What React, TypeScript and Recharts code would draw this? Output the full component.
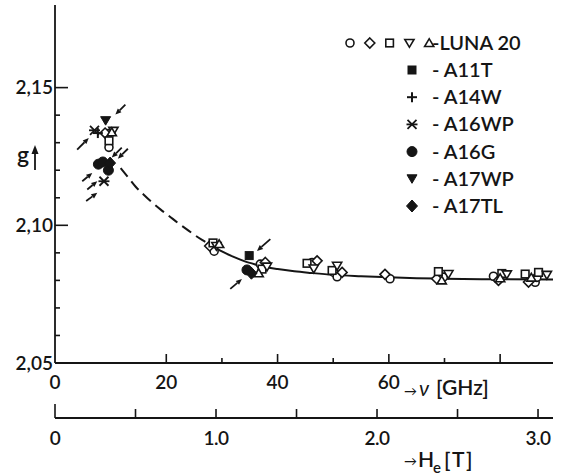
import React from 'react';
import { ComposedChart, XAxis, YAxis, Scatter, Line, ReferenceLine } from 'recharts';

const FONT = 'Lato, "Open Sans", sans-serif';
const INK = '#151515';

// ---- axes ----
const nuTicks = [0, 20, 30, 40, 50, 60, 70, 80];
const nuLabels = [0, 20, 40, 60];
const hTicks = [0, 0.5, 1.0, 1.5, 2.0, 2.5, 3.0];
const hLabels = [0, 1, 2, 3];
const hRange = [{ h: 0, g: 2.05 }, { h: 3.093, g: 2.05 }];
const gTicks = [2.05, 2.06, 2.07, 2.08, 2.09, 2.10, 2.11, 2.12, 2.13, 2.14, 2.15];
const gLabels = [2.05, 2.10, 2.15];

// ---- curve (nu GHz, g) ----
const curveDashed = [
  { nu: 11.8, g: 2.1208 }, { nu: 13, g: 2.1178 }, { nu: 14.5, g: 2.1140 }, { nu: 16, g: 2.1110 },
  { nu: 17.5, g: 2.1082 }, { nu: 19, g: 2.1057 }, { nu: 20.5, g: 2.1034 }, { nu: 22, g: 2.1010 },
  { nu: 23.5, g: 2.0988 }, { nu: 25, g: 2.0966 }, { nu: 26.5, g: 2.0946 }, { nu: 28, g: 2.0928 },
];
const curveSolid = [
  { nu: 28, g: 2.0928 }, { nu: 30, g: 2.0905 }, { nu: 32, g: 2.0886 }, { nu: 34, g: 2.0870 },
  { nu: 36, g: 2.0858 }, { nu: 38, g: 2.0848 }, { nu: 40, g: 2.0841 }, { nu: 43, g: 2.0833 },
  { nu: 46, g: 2.0827 }, { nu: 50, g: 2.0820 }, { nu: 55, g: 2.0815 }, { nu: 60, g: 2.0811 },
  { nu: 65, g: 2.0808 }, { nu: 70, g: 2.0806 }, { nu: 80, g: 2.0804 }, { nu: 89.5, g: 2.0803 },
];

// ---- LUNA 20 (open symbols) ----
const lunaCircle = [
  { nu: 9.6, g: 2.1333 }, { nu: 9.7, g: 2.1283 }, { nu: 28.6, g: 2.0906 }, { nu: 36.9, g: 2.0859 },
  { nu: 46.2, g: 2.0865 }, { nu: 50.1, g: 2.0829 }, { nu: 50.7, g: 2.0813 }, { nu: 60.2, g: 2.0806 },
  { nu: 69.8, g: 2.0812 }, { nu: 78.8, g: 2.0815 }, { nu: 86.3, g: 2.0793 }, { nu: 86.6, g: 2.0811 },
];
const lunaDiamond = [
  { nu: 9.0, g: 2.1335 }, { nu: 27.8, g: 2.0925 }, { nu: 37.8, g: 2.0865 }, { nu: 47.1, g: 2.0871 },
  { nu: 51.6, g: 2.0829 }, { nu: 59.3, g: 2.0822 }, { nu: 68.6, g: 2.0806 }, { nu: 79.7, g: 2.0800 },
  { nu: 85.1, g: 2.0794 },
];
const lunaSquare = [
  { nu: 9.7, g: 2.1307 }, { nu: 28.4, g: 2.0936 }, { nu: 37.2, g: 2.0841 }, { nu: 45.3, g: 2.0862 },
  { nu: 49.8, g: 2.0836 }, { nu: 68.9, g: 2.0832 }, { nu: 80.3, g: 2.0825 }, { nu: 84.5, g: 2.0823 },
  { nu: 86.9, g: 2.0829 },
];
const lunaTriDown = [
  { nu: 10.5, g: 2.1343 }, { nu: 29.0, g: 2.0925 }, { nu: 38.1, g: 2.0850 }, { nu: 46.5, g: 2.0843 },
  { nu: 50.7, g: 2.0853 }, { nu: 70.7, g: 2.0823 }, { nu: 81.2, g: 2.0822 }, { nu: 88.4, g: 2.0820 },
];
const lunaTriUp = [
  { nu: 10.2, g: 2.1338 }, { nu: 29.5, g: 2.0932 }, { nu: 36.6, g: 2.0826 }, { nu: 69.5, g: 2.0800 },
  { nu: 80.0, g: 2.0808 }, { nu: 85.6, g: 2.0810 },
];

// ---- Apollo samples (filled symbols) ----
const a11t = [{ nu: 34.9, g: 2.0890 }];
const a14w = [{ nu: 7.7, g: 2.1335 }];
const a16wp = [{ nu: 7.1, g: 2.1345 }, { nu: 8.8, g: 2.1160 }];
const a16g = [{ nu: 7.8, g: 2.1222 }, { nu: 8.6, g: 2.1230 }, { nu: 9.6, g: 2.1200 }, { nu: 34.5, g: 2.0838 }];
const a17wp = [{ nu: 9.1, g: 2.1380 }];
const a17tl = [{ nu: 9.9, g: 2.1226 }, { nu: 35.3, g: 2.0826 }];

// ---- arrows (from -> to, in nu/g) ----
const arrows = [
  { x1: 12.65, y1: 2.1438, x2: 10.85, y2: 2.1402 },
  { x1: 3.98, y1: 2.1275, x2: 6.07, y2: 2.1317 },
  { x1: 13.1, y1: 2.1278, x2: 11.3, y2: 2.1242 },
  { x1: 12.0, y1: 2.1282, x2: 10.2, y2: 2.1246 },
  { x1: 4.9, y1: 2.1160, x2: 6.7, y2: 2.1190 },
  { x1: 5.8, y1: 2.1130, x2: 7.6, y2: 2.1160 },
  { x1: 5.6, y1: 2.1088, x2: 7.6, y2: 2.1118 },
  { x1: 38.7, y1: 2.0950, x2: 36.3, y2: 2.0907 },
  { x1: 31.5, y1: 2.0769, x2: 33.6, y2: 2.0805 },
];

// ---- legend ----
const lunaLegendKinds = ['circle', 'diamond', 'square', 'triDown', 'triUp'];
const lunaLegendText = '-LUNA 20';
const legendRows = [
  { kind: 'fSquare', label: '- A11T' },
  { kind: 'plus', label: '- A14W' },
  { kind: 'star', label: '- A16WP' },
  { kind: 'fCircle', label: '- A16G' },
  { kind: 'fTriDown', label: '- A17WP' },
  { kind: 'fDiamond', label: '- A17TL' },
];

const Mark = ({ kind, cx, cy }: { kind: string; cx: number; cy: number }) => {
  const sw = 1.6;
  const open = { fill: '#fff', stroke: INK, strokeWidth: sw };
  const solid = { fill: INK, stroke: INK, strokeWidth: 1 };
  switch (kind) {
    case 'circle':
      return <circle cx={cx} cy={cy} r={4} {...open} />;
    case 'diamond':
      return <polygon points={`${cx},${cy - 5} ${cx + 5},${cy} ${cx},${cy + 5} ${cx - 5},${cy}`} {...open} />;
    case 'square':
      return <rect x={cx - 3.8} y={cy - 3.8} width={7.6} height={7.6} {...open} />;
    case 'triDown':
      return <polygon points={`${cx - 4.6},${cy - 3.5} ${cx + 4.6},${cy - 3.5} ${cx},${cy + 4.3}`} {...open} />;
    case 'triUp':
      return <polygon points={`${cx - 4.6},${cy + 3.5} ${cx + 4.6},${cy + 3.5} ${cx},${cy - 4.3}`} {...open} />;
    case 'fSquare':
      return <rect x={cx - 4} y={cy - 4} width={8} height={8} {...solid} />;
    case 'plus':
      return (
        <g stroke={INK} strokeWidth={2}>
          <line x1={cx - 5} y1={cy} x2={cx + 5} y2={cy} />
          <line x1={cx} y1={cy - 5} x2={cx} y2={cy + 5} />
        </g>
      );
    case 'star':
      return (
        <g stroke={INK} strokeWidth={1.8}>
          <line x1={cx - 4.5} y1={cy - 4.5} x2={cx + 4.5} y2={cy + 4.5} />
          <line x1={cx - 4.5} y1={cy + 4.5} x2={cx + 4.5} y2={cy - 4.5} />
          <line x1={cx - 5.5} y1={cy} x2={cx + 5.5} y2={cy} />
        </g>
      );
    case 'fCircle':
      return <circle cx={cx} cy={cy} r={5} {...solid} />;
    case 'fTriDown':
      return <polygon points={`${cx - 5},${cy - 4} ${cx + 5},${cy - 4} ${cx},${cy + 4.5}`} {...solid} />;
    case 'fDiamond':
      return <polygon points={`${cx},${cy - 6} ${cx + 5.5},${cy} ${cx},${cy + 6} ${cx - 5.5},${cy}`} {...solid} />;
    default:
      return null;
  }
};

const shapeOf = (kind: string) => (p: any) => <Mark kind={kind} cx={p.cx} cy={p.cy} />;
const NoShape = () => <g />;

const ArrowShape = (p: any) => {
  const { x1, y1, x2, y2 } = p;
  if ([x1, y1, x2, y2].some((v) => typeof v !== 'number' || isNaN(v))) return null;
  const dx = x2 - x1;
  const dy = y2 - y1;
  const L = Math.sqrt(dx * dx + dy * dy) || 1;
  const ux = dx / L;
  const uy = dy / L;
  const hl = 6;
  const hw = 2.6;
  const bx = x2 - ux * hl;
  const by = y2 - uy * hl;
  return (
    <g>
      <line x1={x1} y1={y1} x2={bx} y2={by} stroke={INK} strokeWidth={1.8} />
      <polygon
        points={`${x2},${y2} ${bx - uy * hw},${by + ux * hw} ${bx + uy * hw},${by - ux * hw}`}
        fill={INK}
      />
    </g>
  );
};

const NuTick = (props: any) => {
  const { x, y, payload } = props;
  const v = payload.value;
  const len = v === 0 ? 0 : v % 20 === 0 ? 9 : 5;
  const show = nuLabels.includes(v);
  return (
    <g>
      {len > 0 && <line x1={x} y1={y} x2={x} y2={y - len} stroke={INK} strokeWidth={1.6} />}
      {show && (
        <text x={x} y={y + 26} textAnchor="middle" fontSize={19} fontWeight={600} fontFamily={FONT} fill={INK}>
          {String(v)}
        </text>
      )}
    </g>
  );
};

const HTick = (props: any) => {
  const { x, y, payload } = props;
  const v = payload.value;
  const len = v === 0 ? 14 : 9;
  const show = hLabels.includes(v);
  return (
    <g>
      <line x1={x} y1={y} x2={x} y2={y - len} stroke={INK} strokeWidth={1.6} />
      {show && (
        <text x={x} y={y + 26.5} textAnchor="middle" fontSize={19} fontWeight={600} fontFamily={FONT} fill={INK} letterSpacing={-0.5}>
          {v === 0 ? '0' : v.toFixed(1)}
        </text>
      )}
    </g>
  );
};

const GTick = (props: any) => {
  const { x, y, payload } = props;
  const v = Math.round(payload.value * 100) / 100;
  const major = gLabels.some((m) => Math.abs(m - v) < 1e-6);
  const len = major ? 13 : 5;
  return (
    <g>
      <line x1={x} y1={y} x2={x + len} y2={y} stroke={INK} strokeWidth={1.6} />
      {major && (
        <text x={x - 2} y={y + 6.5} textAnchor="end" fontSize={19} fontWeight={600} fontFamily={FONT} fill={INK}>
          {v.toFixed(2).replace('.', ',')}
        </text>
      )}
    </g>
  );
};

const series: { data: { nu: number; g: number }[]; kind: string }[] = [
  { data: lunaCircle, kind: 'circle' },
  { data: lunaDiamond, kind: 'diamond' },
  { data: lunaSquare, kind: 'square' },
  { data: lunaTriDown, kind: 'triDown' },
  { data: lunaTriUp, kind: 'triUp' },
  { data: a11t, kind: 'fSquare' },
  { data: a14w, kind: 'plus' },
  { data: a16wp, kind: 'star' },
  { data: a16g, kind: 'fCircle' },
  { data: a17wp, kind: 'fTriDown' },
  { data: a17tl, kind: 'fDiamond' },
];

export default function App() {
  const W = 562;
  const H = 476;
  return (
    <div style={{ position: 'absolute', left: 0, top: 0, width: W, height: H, background: '#fff' }}>
      <ComposedChart width={W} height={H} margin={{ top: 5, right: 9, left: 0, bottom: 18 }}>
        <XAxis
          xAxisId="a_nu"
          type="number"
          dataKey="nu"
          domain={[0, 89.5]}
          ticks={nuTicks}
          tick={<NuTick />}
          tickLine={false}
          tickSize={0}
          tickMargin={0}
          height={55}
          axisLine={{ stroke: INK, strokeWidth: 1.8 }}
          allowDataOverflow
        />
        <XAxis
          xAxisId="b_h"
          type="number"
          dataKey="h"
          domain={[0, 3.093]}
          ticks={hTicks}
          tick={<HTick />}
          tickLine={false}
          tickSize={0}
          tickMargin={0}
          height={40}
          axisLine={{ stroke: INK, strokeWidth: 1.8 }}
          allowDataOverflow
        />
        <XAxis
          xAxisId="c_top"
          orientation="top"
          type="number"
          domain={[0, 89.5]}
          height={0}
          tick={false}
          tickLine={false}
          axisLine={{ stroke: INK, strokeWidth: 1.8 }}
        />
        <YAxis
          yAxisId="g"
          type="number"
          domain={[2.05, 2.18]}
          ticks={gTicks}
          tick={<GTick />}
          tickLine={false}
          tickSize={0}
          tickMargin={0}
          width={55}
          axisLine={{ stroke: INK, strokeWidth: 1.8 }}
          allowDataOverflow
        />
        <YAxis
          yAxisId="right"
          orientation="right"
          type="number"
          domain={[2.05, 2.18]}
          width={0}
          tick={false}
          tickLine={false}
          axisLine={{ stroke: INK, strokeWidth: 1.8 }}
        />
        <Scatter
          xAxisId="b_h"
          yAxisId="g"
          data={hRange}
          dataKey="g"
          shape={NoShape}
          isAnimationActive={false}
        />
        <Line
          xAxisId="a_nu"
          yAxisId="g"
          data={curveDashed}
          dataKey="g"
          type="monotone"
          stroke={INK}
          strokeWidth={2}
          strokeDasharray="11 6"
          dot={false}
          isAnimationActive={false}
        />
        <Line
          xAxisId="a_nu"
          yAxisId="g"
          data={curveSolid}
          dataKey="g"
          type="monotone"
          stroke={INK}
          strokeWidth={2}
          dot={false}
          isAnimationActive={false}
        />
        {arrows.map((a, i) => (
          <ReferenceLine
            key={`ar${i}`}
            xAxisId="a_nu"
            yAxisId="g"
            segment={[{ x: a.x1, y: a.y1 }, { x: a.x2, y: a.y2 }]}
            stroke={INK}
            shape={ArrowShape}
          />
        ))}
        {series.map((s, i) => (
          <Scatter
            key={`s${i}`}
            xAxisId="a_nu"
            yAxisId="g"
            data={s.data}
            dataKey="g"
            shape={shapeOf(s.kind)}
            isAnimationActive={false}
          />
        ))}
      </ComposedChart>
      <svg
        width={W}
        height={H}
        style={{ position: 'absolute', left: 0, top: 0, pointerEvents: 'none' }}
      >
        {/* y axis title */}
        <text x={23} y={163} textAnchor="middle" fontSize={23} fontWeight={600} fontFamily={FONT} fill={INK}>g</text>
        <line x1={35} y1={170} x2={35} y2={152} stroke={INK} strokeWidth={1.8} />
        <polygon points="35,145 31.5,154 38.5,154" fill={INK} />
        {/* nu axis title */}
        <text x={404} y={396} fontSize={13} fontFamily={FONT} fill={INK}>→</text>
        <text x={419} y={396} fontSize={21} fontStyle="italic" fontFamily={FONT} fill={INK}>ν</text>
        <text x={436} y={395} fontSize={21} fontWeight={600} fontFamily={FONT} fill={INK}>[GHz]</text>
        {/* H axis title */}
        <text x={404} y={466} fontSize={13} fontFamily={FONT} fill={INK}>→</text>
        <text x={418} y={467} fontSize={21} fontWeight={600} fontFamily={FONT} fill={INK}>H</text>
        <text x={433} y={473} fontSize={15} fontWeight={600} fontFamily={FONT} fill={INK}>e</text>
        <text x={444} y={467} fontSize={21} fontWeight={600} fontFamily={FONT} fill={INK} letterSpacing={1.5}>[T]</text>
        {/* legend */}
        {lunaLegendKinds.map((k, i) => (
          <Mark key={`lk${i}`} kind={k} cx={350 + i * 19.8} cy={43} />
        ))}
        <text x={432} y={50} fontSize={20} fontWeight={600} fontFamily={FONT} fill={INK}>{lunaLegendText}</text>
        {legendRows.map((r, i) => (
          <g key={`lr${i}`}>
            <Mark kind={r.kind} cx={412} cy={70 + i * 27.2} />
            <text x={432} y={77 + i * 27.2} fontSize={20} fontWeight={600} fontFamily={FONT} fill={INK}>{r.label}</text>
          </g>
        ))}
      </svg>
    </div>
  );
}
